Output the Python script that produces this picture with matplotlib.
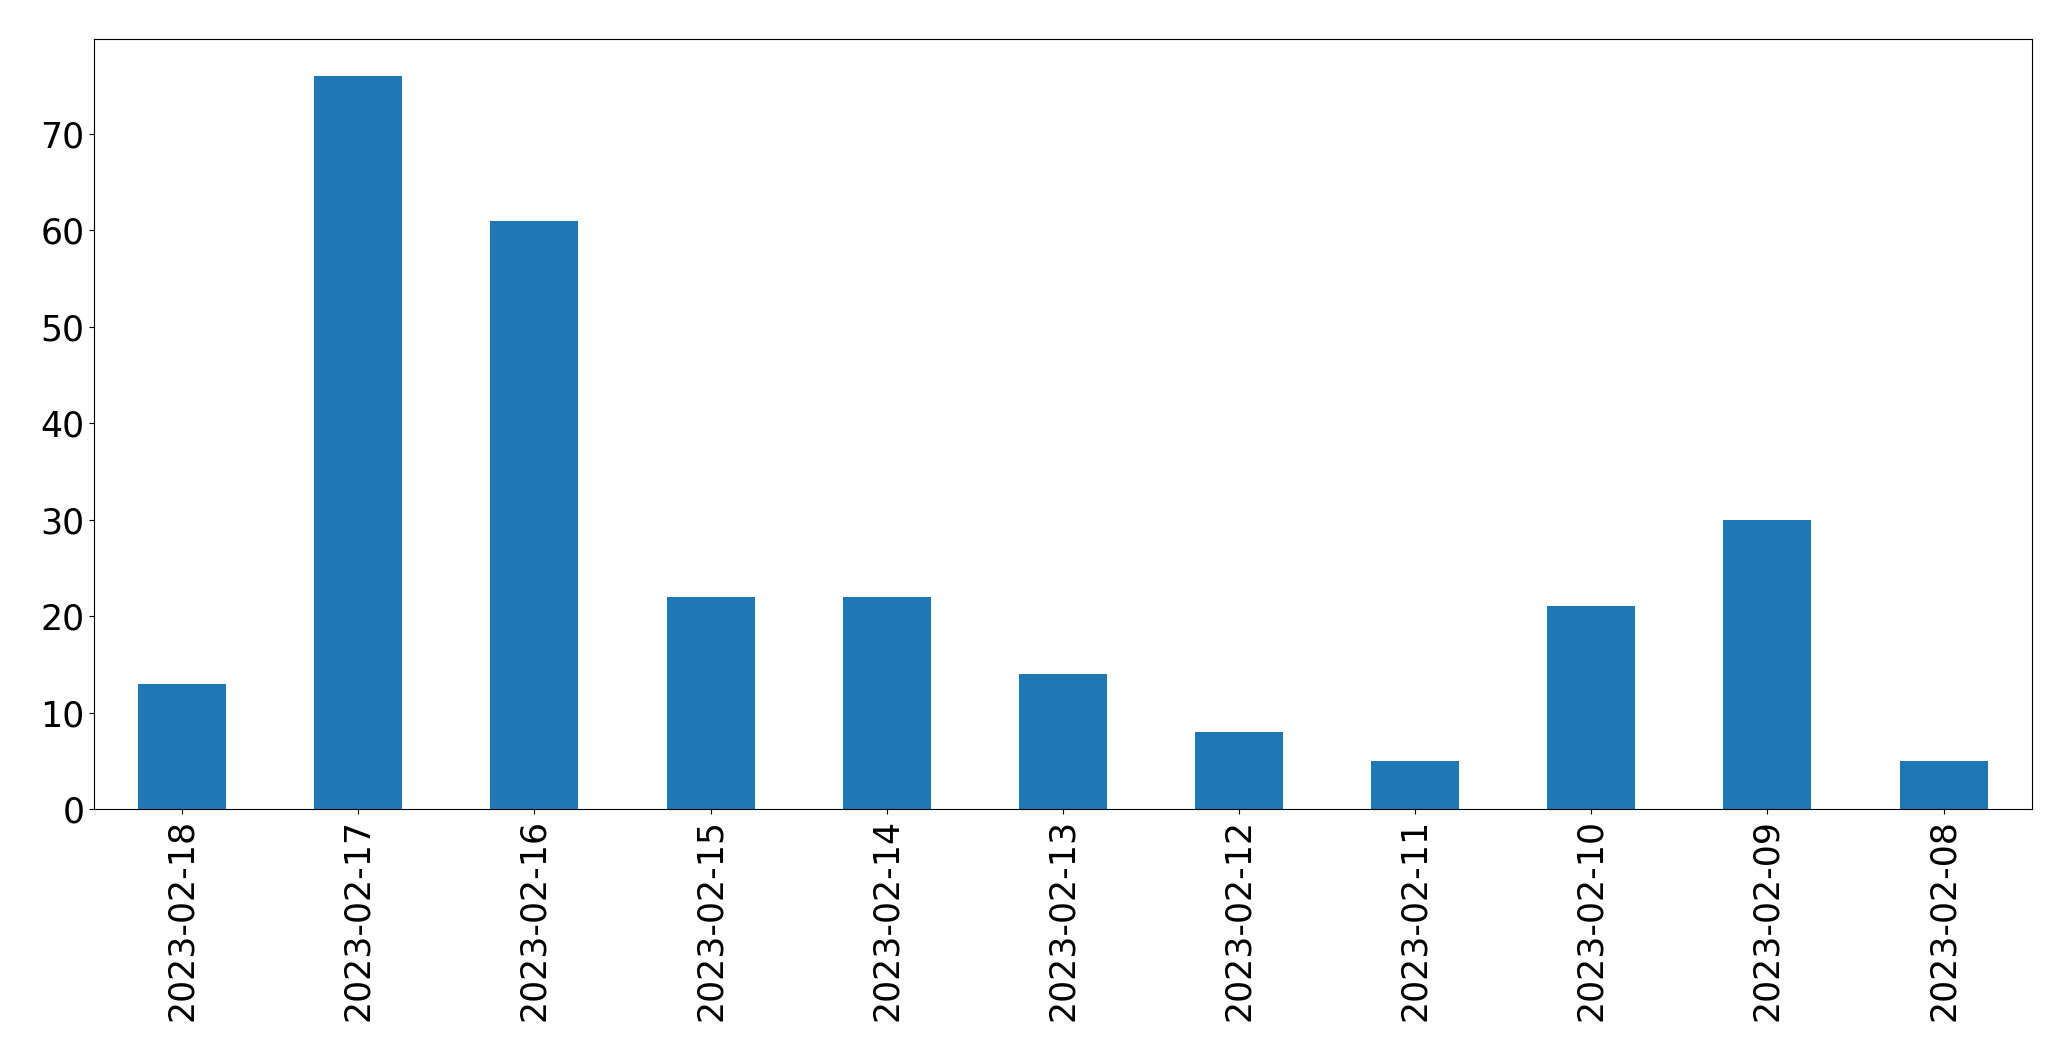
import pandas as pd
import matplotlib
matplotlib.use('Agg')
import matplotlib.pyplot as plt

dates = ['2023-02-18', '2023-02-17', '2023-02-16', '2023-02-15', '2023-02-14',
         '2023-02-13', '2023-02-12', '2023-02-11', '2023-02-10', '2023-02-09',
         '2023-02-08']
counts = [13, 76, 61, 22, 22, 14, 8, 5, 21, 30, 5]

s = pd.Series(counts, index=dates)

fig, ax = plt.subplots(figsize=(20.71, 10.61), dpi=100)
s.plot(kind='bar', ax=ax, color='#1f77b4')
ax.tick_params(axis='both', labelsize=25)
plt.subplots_adjust(left=0.0454, right=0.981, top=0.963, bottom=0.2375)
plt.savefig('out.png', dpi=100)
